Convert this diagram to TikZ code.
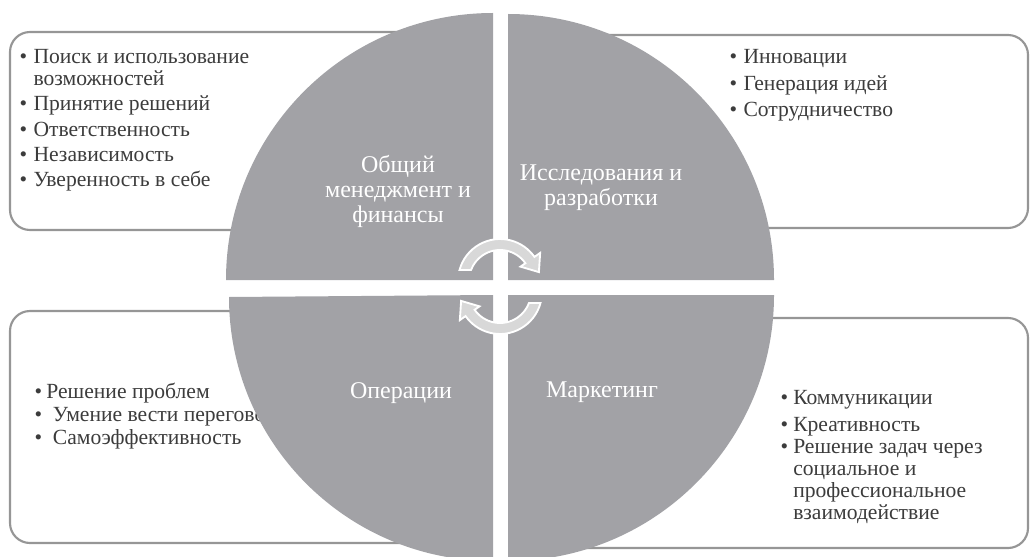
\documentclass[tikz,border=0pt]{standalone}
\usepackage{fontspec}
\setmainfont{Liberation Serif}

\definecolor{quadgray}{RGB}{162,162,166}
\definecolor{boxgray}{RGB}{150,150,150}
\definecolor{arrowgray}{RGB}{216,216,216}
\definecolor{listgray}{RGB}{60,60,60}

\newcommand{\lbul}{\textbullet\hspace{0.3em}}
\newcommand{\lind}{\hphantom{\textbullet\hspace{0.3em}}}

\tikzset{every picture/.style={line width=0.75pt}}
\tikzset{
  listbox/.style={draw=boxgray, line width=1.6pt, rounded corners=15pt, fill=white},
  quadrant/.style={fill=quadgray},
  listtext/.style={anchor=north west, inner sep=0.75pt, align=left, text=listgray, font=\fontsize{16.2}{16.5}\selectfont},
  quadlabel/.style={inner sep=0.75pt, align=center, text=white, font=\fontsize{18}{18.75}\selectfont},
  cyclearrow/.style={fill=arrowgray, draw=white, line width=1.4pt},
}

\begin{document}
\begin{tikzpicture}[x=0.75pt,y=0.75pt,yscale=-1,xscale=1]
\useasboundingbox (0,0) rectangle (1030,556);

%Shape: Rounded Rect [id:boxGM] 
\draw [listbox] (10,32) rectangle (470,230);
%Shape: Rounded Rect [id:boxRD] 
\draw [listbox] (530,35) rectangle (1028,228);
%Shape: Rounded Rect [id:boxOP] 
\draw [listbox] (10,311) rectangle (470,543);
%Shape: Rounded Rect [id:boxMK] 
\draw [listbox] (530,318) rectangle (1028,548);

% Text Node
\draw (18,48) node (listGM) [listtext] {\lbul Поиск и использование\\ \lind возможностей\\[2.5pt] \lbul Принятие решений\\[2.5pt] \lbul Ответственность\\[2.5pt] \lbul Независимость\\[2.5pt] \lbul Уверенность в себе};
% Text Node
\draw (728,48) node (listRD) [listtext] {\lbul Инновации\\[3.4pt] \lbul Генерация идей\\[3.4pt] \lbul Сотрудничество};
% Text Node
\draw (33,382) node (listOP) [listtext] {\textbullet\hspace{0.2em}Решение проблем\\[0.5pt] \textbullet\hspace{0.5em}Умение вести переговоры\\[0.5pt] \textbullet\hspace{0.5em}Самоэффективность};
% Text Node
\draw (779,389) node (listMK) [listtext] {\textbullet\hspace{0.24em}Коммуникации\\[3.7pt] \textbullet\hspace{0.24em}Креативность\\ \textbullet\hspace{0.24em}Решение задач через\\ \hphantom{\textbullet\hspace{0.24em}}социальное и\\ \hphantom{\textbullet\hspace{0.24em}}профессиональное\\ \hphantom{\textbullet\hspace{0.24em}}взаимодействие};

%Shape: Quarter Circle [id:quadGM] 
\fill [quadrant] (493,280) -- (226,280) arc[start angle=180, end angle=270, radius=267] -- cycle;
%Shape: Quarter Circle [id:quadRD] 
\fill [quadrant] (508,280) -- (508,14) arc[start angle=270, end angle=360, radius=266] -- cycle;
%Shape: Quarter Circle [id:quadMK] 
\fill [quadrant] (508,295) -- (774,295) arc[start angle=0, end angle=90, radius=266] -- cycle;
%Shape: Quarter Circle [id:quadOP] 
\fill [quadrant] (493,295) -- (493,561) arc[start angle=90, end angle=180, radius=264] -- cycle;

% Text Node
\draw (398,191) node (labelGM) [quadlabel] {Общий\\менеджмент и\\финансы};
% Text Node
\draw (601,188) node (labelRD) [quadlabel] {Исследования и\\разработки};
% Text Node
\draw (401,393) node (labelOP) [quadlabel] {Операции};
% Text Node
\draw (602,392) node (labelMK) [quadlabel] {Маркетинг};

%Shape: Circular Arrow [id:cycleTop] 
\begin{scope}[shift={(500,281)}]
\draw [cyclearrow] (-40.5,-11) arc[start angle=195.2, end angle=325, radius=42] -- (325:49) -- (38.9,-8.9) -- (325:25) -- (325:31) arc[start angle=325, end angle=200.8, radius=31] -- cycle;
\end{scope}
%Shape: Circular Arrow [id:cycleBottom] 
\begin{scope}[shift={(500,292)}, rotate=180]
\draw [cyclearrow] (-40.5,-11) arc[start angle=195.2, end angle=325, radius=42] -- (325:49) -- (38.9,-8.9) -- (325:25) -- (325:31) arc[start angle=325, end angle=200.8, radius=31] -- cycle;
\end{scope}

\end{tikzpicture}
\end{document}
